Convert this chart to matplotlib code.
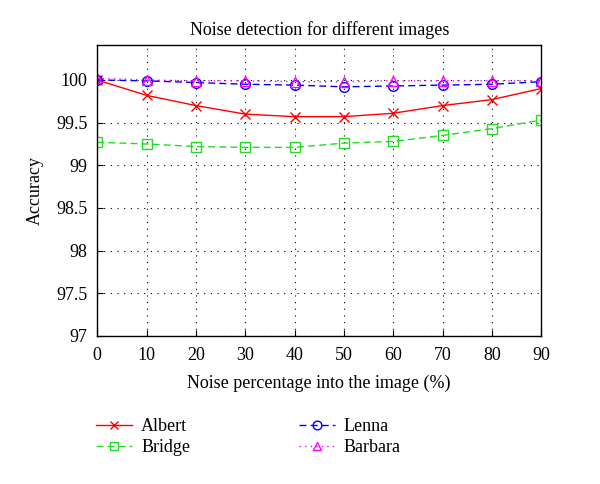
import matplotlib

matplotlib.use("Agg")
import matplotlib.pyplot as plt

plt.rcParams["font.family"] = ["Liberation Serif", "DejaVu Serif"]

noise = [0, 10, 20, 30, 40, 50, 60, 70, 80, 90]
albert = [100.0, 99.82, 99.70, 99.60, 99.57, 99.57, 99.61, 99.70, 99.77, 99.90]
bridge = [99.27, 99.25, 99.22, 99.21, 99.21, 99.26, 99.28, 99.35, 99.43, 99.53]
lenna = [100.0, 99.99, 99.97, 99.95, 99.94, 99.92, 99.93, 99.94, 99.95, 99.98]
barbara = [100.02, 100.0, 99.99, 99.99, 99.98, 99.98, 99.99, 99.99, 99.99, 99.99]

y_ticks = [97, 97.5, 98, 98.5, 99, 99.5, 100]
y_labels = ["97", "97.5", "98", "98.5", "99", "99.5", "100"]

fig = plt.figure(figsize=(6.0, 4.84), dpi=100)
ax = fig.add_axes([0.162, 0.306, 0.740, 0.601])

ax.plot(noise, albert, color="#ff0000", linestyle="-", marker="x", markersize=7, mew=1.0, lw=1.0, label="Albert")
ax.plot(noise, lenna, color="#0000ff", linestyle=(0, (5, 3)), marker="o", markersize=7, mfc="none", mew=1.0, lw=1.0, label="Lenna")
ax.plot(noise, bridge, color="#22dd22", linestyle=(0, (5, 3)), marker="s", markersize=7, mfc="none", mew=1.0, lw=1.0, label="Bridge")
ax.plot(noise, barbara, color="#ff00ff", linestyle=(0, (1, 3)), marker="^", markersize=7, mfc="none", mew=1.0, lw=1.0, label="Barbara")

ax.set_xlim(0, 90)
ax.set_ylim(97, 100.41)
ax.set_xticks(noise)
ax.set_yticks(y_ticks)
ax.set_yticklabels(y_labels)
ax.tick_params(direction="in", labelsize=13, length=4)
ax.tick_params(axis="x", pad=8)
ax.tick_params(axis="y", pad=7)
ax.grid(True, color="black", linestyle=(0, (1, 5)), lw=0.8)
for s in ax.spines.values():
    s.set_linewidth(1.0)

ax.set_title("Noise detection for different images", fontsize=13, pad=7)
ax.set_xlabel("Noise percentage into the image (%)", fontsize=13, labelpad=8)
ax.set_ylabel("Accuracy", fontsize=13, labelpad=9)

handles, labels = ax.get_legend_handles_labels()
order = [0, 2, 1, 3]
fig.legend([handles[i] for i in order], [labels[i] for i in order],
           loc="upper left", bbox_to_anchor=(0.133, 0.17), ncol=2, frameon=False,
           fontsize=13, columnspacing=6.0, handlelength=2.0, handletextpad=0.5,
           labelspacing=0.25, markerscale=0.9)

fig.savefig("out.png", dpi=100)
